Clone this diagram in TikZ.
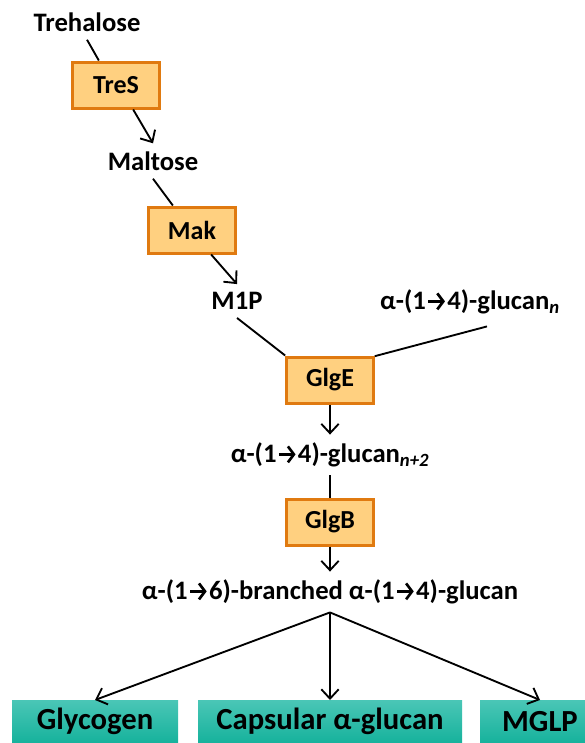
\documentclass[tikz,border=0pt]{standalone}
\usepackage{fontspec}
\setmainfont{Carlito}
\usetikzlibrary{arrows.meta}

\definecolor{enzfill}{RGB}{255,208,128}
\definecolor{enzline}{RGB}{224,122,16}
\definecolor{prodtop}{RGB}{74,198,182}
\definecolor{prodbot}{RGB}{22,178,156}

% bond arrow inside the glucan names
\newcommand{\ra}{\kern0.8pt\tikz[x=1pt,y=1pt,baseline=0pt]\draw[line width=2pt,-{Straight Barb[length=4.5pt,width=12pt,line width=2pt]}] (0,6.2) -- (12.5,6.2);\kern0.8pt}

\tikzstyle{enzyme}    = [draw=enzline,line width=2.25pt,fill=enzfill,minimum width=65pt,minimum height=34.5pt,font=\bfseries\fontsize{19.5}{23}\selectfont]
\tikzstyle{metabolite}= [inner sep=6pt,font=\bfseries\fontsize{20}{24}\selectfont]
\tikzstyle{product}   = [top color=prodtop,bottom color=prodbot,minimum height=32pt,anchor=north,font=\bfseries\fontsize{23}{27}\selectfont]
\tikzstyle{link}      = [line width=1.4pt]
\tikzstyle{flow}      = [line width=1.4pt,-{Straight Barb[length=7pt,width=13pt,line width=1.4pt]}]

\begin{document}
\begin{tikzpicture}[x=0.75pt,y=-0.75pt]
\useasboundingbox (0,0) rectangle (585,743);
\clip (0,0) rectangle (585,743);
% Trehalose to maltose-1-phosphate
\node[metabolite] (treh) at (87,22) {Trehalose};
\node[enzyme] (tres) at (116,85) {TreS};
\node[metabolite] (malt) at (153,161) {Maltose};
\node[enzyme] (mak) at (192,230) {Mak};
\node[metabolite] (mip) at (237,301) {M1P};
\draw[link] (treh.south) -- (tres.125);
\draw[flow] (tres.-55) -- (malt.north);
\draw[link] (malt.south) -- (mak.128);
\draw[flow] (mak.-52) -- (mip.north);
% Chain elongation by GlgE
\node[metabolite] (glcn) at (470,302) {α-(1\ra4)-glucan\textsubscript{\itshape n}};
\node[enzyme] (glge) at (330,380) {GlgE};
\node[metabolite] (glcnn) at (330,455) {α-(1\ra4)-glucan\textsubscript{\itshape n+2}};
\draw[link] (mip.south) -- (glge.north west);
\draw[link] (glcn.south) ++(17,4) -- (glge.28);
\draw[flow] (glge.south) -- (glcnn.north);
% Branching by GlgB
\node[enzyme] (glgb) at (330,522) {GlgB};
\node[metabolite] (brch) at (330,592) {α-(1\ra6)-branched α-(1\ra4)-glucan};
\draw[link] (glcnn.south) -- (glgb.north);
\draw[flow] (glgb.south) -- (brch.north);
% Final polysaccharides
\node[product,minimum width=124.5pt] (glyc) at (95,700) {Glycogen};
\node[product,minimum width=198pt] (caps) at (330,700) {Capsular α-glucan};
\node[product,minimum width=90pt] (mglp) at (540,700) {MGLP};
\foreach \p in {glyc,caps,mglp}
  \draw[flow] (brch.south) -- (\p.north);
\end{tikzpicture}
\end{document}
